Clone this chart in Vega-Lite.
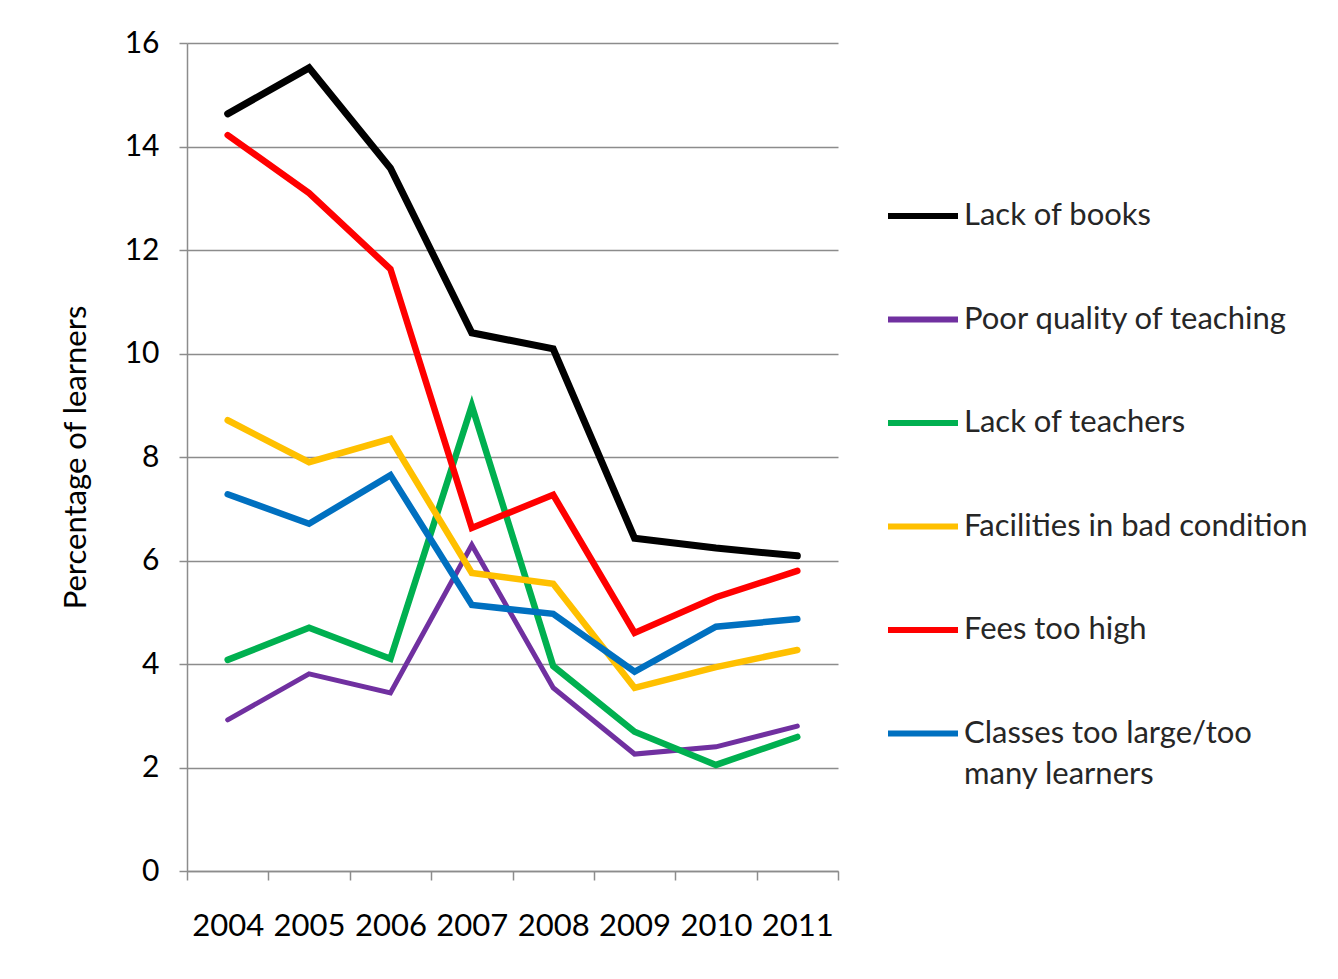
{
  "$schema": "https://vega.github.io/schema/vega-lite/v6.json",
  "width": 651,
  "height": 828,
  "autosize": {"type": "none"},
  "padding": {"left": 187, "top": 43, "right": 500, "bottom": 108},
  "background": "white",
  "config": {
    "font": "Lato",
    "view": {"stroke": null},
    "axis": {
      "labelFont": "Lato",
      "titleFont": "Lato",
      "labelColor": "#000000",
      "titleColor": "#000000",
      "domainColor": "#8c8c8c",
      "tickColor": "#8c8c8c",
      "gridColor": "#8c8c8c",
      "domainWidth": 1.5,
      "tickWidth": 1.5,
      "gridWidth": 1.5
    }
  },
  "data": {
    "values": [
      {"year": "2004", "reason": "Lack of books", "pct": 14.63},
      {"year": "2005", "reason": "Lack of books", "pct": 15.52},
      {"year": "2006", "reason": "Lack of books", "pct": 13.58},
      {"year": "2007", "reason": "Lack of books", "pct": 10.40},
      {"year": "2008", "reason": "Lack of books", "pct": 10.09},
      {"year": "2009", "reason": "Lack of books", "pct": 6.43},
      {"year": "2010", "reason": "Lack of books", "pct": 6.24},
      {"year": "2011", "reason": "Lack of books", "pct": 6.09},

      {"year": "2004", "reason": "Poor quality of teaching", "pct": 2.92},
      {"year": "2005", "reason": "Poor quality of teaching", "pct": 3.81},
      {"year": "2006", "reason": "Poor quality of teaching", "pct": 3.44},
      {"year": "2007", "reason": "Poor quality of teaching", "pct": 6.30},
      {"year": "2008", "reason": "Poor quality of teaching", "pct": 3.54},
      {"year": "2009", "reason": "Poor quality of teaching", "pct": 2.26},
      {"year": "2010", "reason": "Poor quality of teaching", "pct": 2.40},
      {"year": "2011", "reason": "Poor quality of teaching", "pct": 2.80},

      {"year": "2004", "reason": "Lack of teachers", "pct": 4.08},
      {"year": "2005", "reason": "Lack of teachers", "pct": 4.70},
      {"year": "2006", "reason": "Lack of teachers", "pct": 4.10},
      {"year": "2007", "reason": "Lack of teachers", "pct": 8.99},
      {"year": "2008", "reason": "Lack of teachers", "pct": 3.96},
      {"year": "2009", "reason": "Lack of teachers", "pct": 2.69},
      {"year": "2010", "reason": "Lack of teachers", "pct": 2.05},
      {"year": "2011", "reason": "Lack of teachers", "pct": 2.59},

      {"year": "2004", "reason": "Facilities in bad condition", "pct": 8.71},
      {"year": "2005", "reason": "Facilities in bad condition", "pct": 7.90},
      {"year": "2006", "reason": "Facilities in bad condition", "pct": 8.35},
      {"year": "2007", "reason": "Facilities in bad condition", "pct": 5.76},
      {"year": "2008", "reason": "Facilities in bad condition", "pct": 5.55},
      {"year": "2009", "reason": "Facilities in bad condition", "pct": 3.54},
      {"year": "2010", "reason": "Facilities in bad condition", "pct": 3.94},
      {"year": "2011", "reason": "Facilities in bad condition", "pct": 4.27},

      {"year": "2004", "reason": "Fees too high", "pct": 14.22},
      {"year": "2005", "reason": "Fees too high", "pct": 13.10},
      {"year": "2006", "reason": "Fees too high", "pct": 11.63},
      {"year": "2007", "reason": "Fees too high", "pct": 6.63},
      {"year": "2008", "reason": "Fees too high", "pct": 7.27},
      {"year": "2009", "reason": "Fees too high", "pct": 4.60},
      {"year": "2010", "reason": "Fees too high", "pct": 5.29},
      {"year": "2011", "reason": "Fees too high", "pct": 5.80},

      {"year": "2004", "reason": "Classes too large/too many learners", "pct": 7.28},
      {"year": "2005", "reason": "Classes too large/too many learners", "pct": 6.71},
      {"year": "2006", "reason": "Classes too large/too many learners", "pct": 7.65},
      {"year": "2007", "reason": "Classes too large/too many learners", "pct": 5.14},
      {"year": "2008", "reason": "Classes too large/too many learners", "pct": 4.97},
      {"year": "2009", "reason": "Classes too large/too many learners", "pct": 3.85},
      {"year": "2010", "reason": "Classes too large/too many learners", "pct": 4.72},
      {"year": "2011", "reason": "Classes too large/too many learners", "pct": 4.87}
    ]
  },
  "mark": {"type": "line", "strokeCap": "round", "strokeJoin": "miter"},
  "encoding": {
    "x": {
      "field": "year",
      "type": "ordinal",
      "scale": {"type": "band", "paddingInner": 0, "paddingOuter": 0},
      "axis": {
        "title": null,
        "labelAngle": 0,
        "labelFontSize": 31,
        "labelPadding": 31,
        "tickSize": 9,
        "tickBand": "extent",
        "grid": false
      }
    },
    "y": {
      "field": "pct",
      "type": "quantitative",
      "scale": {"domain": [0, 16], "nice": false},
      "axis": {
        "title": "Percentage of learners",
        "titleFontSize": 31,
        "titleFontWeight": "normal",
        "titlePadding": 32,
        "labelFontSize": 30,
        "labelPadding": 20,
        "tickSize": 8,
        "values": [0, 2, 4, 6, 8, 10, 12, 14, 16],
        "grid": true
      }
    },
    "color": {
      "field": "reason",
      "type": "nominal",
      "sort": null,
      "scale": {
        "domain": ["Lack of books", "Poor quality of teaching", "Lack of teachers", "Facilities in bad condition", "Fees too high", "Classes too large/too many learners"],
        "range": ["#000000", "#7030A0", "#00B050", "#FFC000", "#FF0000", "#0070C0"]
      },
      "legend": {
        "title": null,
        "orient": "none",
        "legendX": 698,
        "legendY": 135,
        "symbolType": "stroke",
        "symbolSize": 4900,
        "symbolStrokeWidth": 6,
        "labelFont": "Lato",
        "labelFontSize": 31,
        "labelColor": "#262626",
        "labelOffset": 3,
        "labelLimit": 450,
        "rowPadding": 50.5,
        "labelExpr": "datum.label == 'Classes too large/too many learners' ? ['Classes too large/too', 'many learners'] : datum.label",
        "encode": {
          "labels": {"update": {"lineHeight": {"value": 41}}}
        }
      }
    },
    "strokeWidth": {
      "condition": [
        {"test": "datum.reason === 'Lack of books'", "value": 7},
        {"test": "datum.reason === 'Poor quality of teaching'", "value": 5}
      ],
      "value": 6.5
    }
  }
}
